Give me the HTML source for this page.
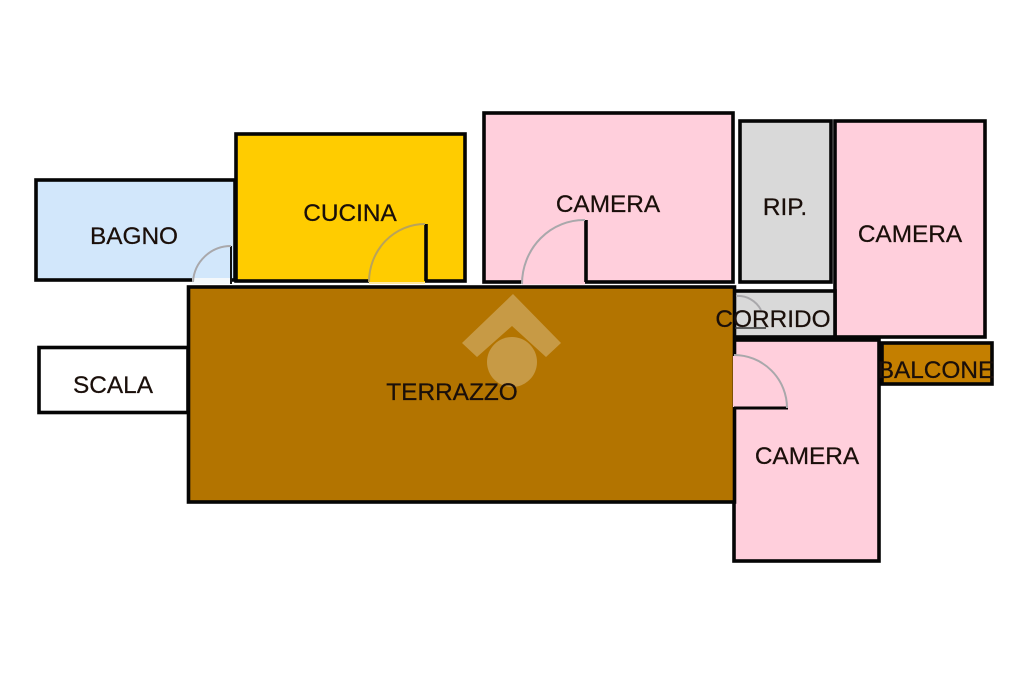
<!DOCTYPE html>
<html><head><meta charset="utf-8">
<style>
html,body{margin:0;padding:0;background:#fff;width:1024px;height:682px;overflow:hidden}
svg{display:block}
text{font-family:"Liberation Sans",sans-serif;font-size:24.4px;fill:#1a0f0a;stroke:#1a0f0a;stroke-width:.25px}
</style></head>
<body>
<svg width="1024" height="682" viewBox="0 0 1024 682" xmlns="http://www.w3.org/2000/svg">
<g stroke="#050505" stroke-width="3.600">
<rect x="36" y="180" width="199" height="100" fill="#d2e7fb"/>
<rect x="236" y="134" width="229" height="147" fill="#ffcc00"/>
<rect x="484" y="113" width="249" height="169" fill="#ffcfdc"/>
<rect x="740" y="121" width="91" height="161" fill="#d9d9d9"/>
<rect x="835" y="121" width="150" height="216" fill="#ffcfdc"/>
<rect x="734" y="291" width="101" height="46" fill="#d9d9d9"/>
<rect x="734" y="340" width="145" height="221" fill="#ffcfdc"/>
<rect x="882" y="343" width="110" height="41" fill="#c47f00"/>
<rect x="39" y="347.500" width="149" height="65" fill="#fff"/>
<rect x="188.500" y="287" width="546" height="215" fill="#b37400"/>
</g>
<!-- door openings -->
<rect x="192" y="278" width="40" height="6" fill="#f4f8fb"/>
<rect x="369" y="278" width="56" height="4.500" fill="#ffcc00"/>
<rect x="369" y="282" width="56" height="2" fill="#ffe9a0"/>
<rect x="522" y="279" width="63" height="5.500" fill="#ffcfdc"/>
<rect x="733" y="356" width="3.500" height="51" fill="#ffcfdc"/>
<!-- door leaves -->
<path d="M231 246V284" stroke="#111" stroke-width="2" fill="none"/>
<path d="M426 224V281" stroke="#050505" stroke-width="3.600" fill="none"/>
<path d="M586 220V282" stroke="#050505" stroke-width="3.600" fill="none"/>
<path d="M734 408H788" stroke="#050505" stroke-width="3" fill="none"/>
<!-- door arcs -->
<g fill="none" stroke="#a9a8ab" stroke-width="2">
<path d="M193 282A38 38 0 0 1 231 246"/>
<path d="M369 282A56 58 0 0 1 425 224" stroke="#b9a35a"/>
<path d="M522 284A62 64 0 0 1 585 220"/>
<path d="M734 355A53 53 0 0 1 787 408"/>
<path d="M736 296A26 26 0 0 1 761 310"/>
</g>
<path d="M735 328H766" stroke="#333" stroke-width="1.500"/>
<!-- watermark -->
<g fill="#fff" opacity=".27">
<polygon points="513,294 561,343 546,357 512,326 477,357 462,343"/>
<circle cx="512" cy="362" r="25"/>
</g>
<!-- labels -->
<text x="134" y="244" text-anchor="middle">BAGNO</text>
<text x="350" y="221" text-anchor="middle">CUCINA</text>
<text x="608" y="212" text-anchor="middle">CAMERA</text>
<text x="785" y="215" text-anchor="middle">RIP.</text>
<text x="910" y="242" text-anchor="middle">CAMERA</text>
<text x="773" y="327" text-anchor="middle">CORRIDO</text>
<text x="113" y="393" text-anchor="middle">SCALA</text>
<text x="452" y="400" text-anchor="middle">TERRAZZO</text>
<text x="936" y="378" text-anchor="middle">BALCONE</text>
<text x="807" y="464" text-anchor="middle">CAMERA</text>
</svg>
</body></html>
